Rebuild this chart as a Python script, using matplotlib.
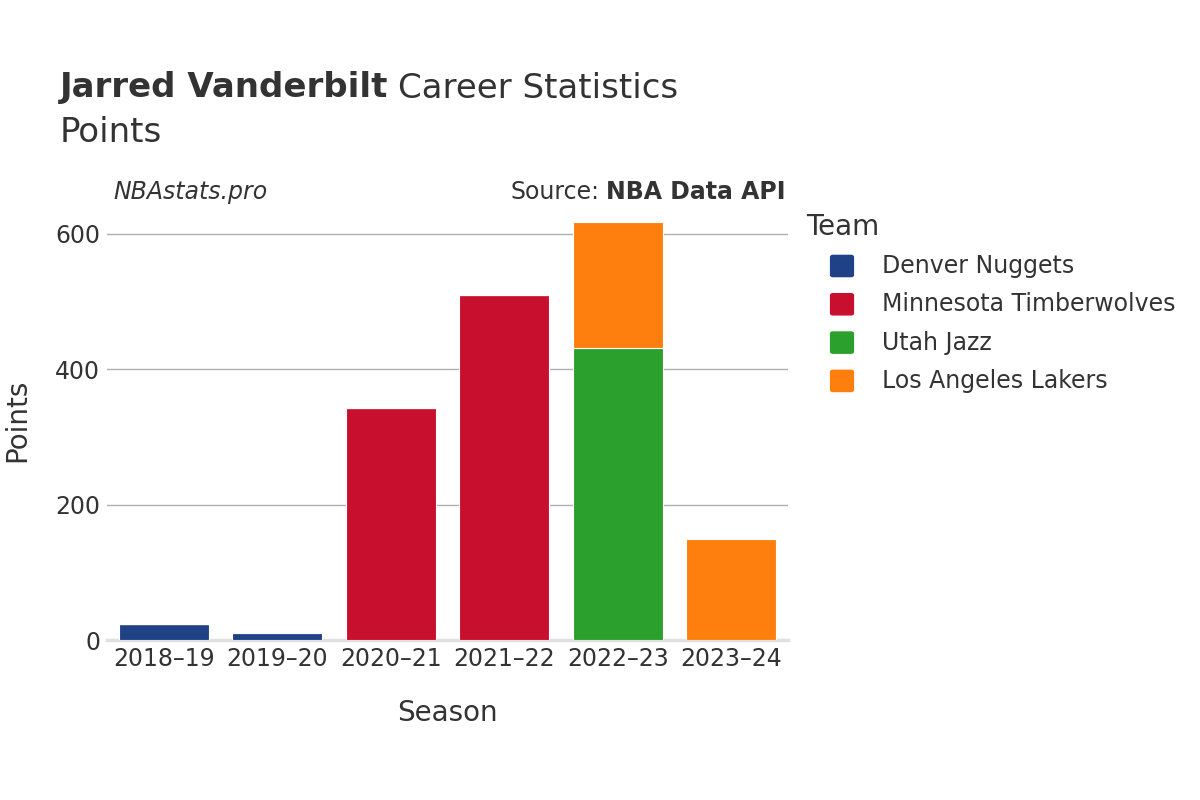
import matplotlib.pyplot as plt
from matplotlib.patches import FancyBboxPatch
import numpy as np

# data
seasons = ["2018\u201319", "2019\u201320", "2020\u201321", "2021\u201322", "2022\u201323", "2023\u201324"]
teams = ["Denver Nuggets", "Minnesota Timberwolves", "Utah Jazz", "Los Angeles Lakers"]
colors = ["#1f4287", "#c8102e", "#2ca02c", "#ff7f0e"]
points = {
    "Denver Nuggets": [24, 10, 0, 0, 0, 0],
    "Minnesota Timberwolves": [0, 2, 343, 510, 0, 0],
    "Utah Jazz": [0, 0, 0, 0, 431, 0],
    "Los Angeles Lakers": [0, 0, 0, 0, 187, 149],
}

W, H = 1200, 800
fig = plt.figure(figsize=(12, 8), dpi=100)
ax = fig.add_axes([107 / W, 1 - 640 / H, (788 - 107) / W, (640 - 200) / H])

x = np.arange(len(seasons))
bottom = np.zeros(len(seasons))
for team, c in zip(teams, colors):
    vals = np.array(points[team], dtype=float)
    ax.bar(x, vals, 0.79, bottom=bottom, color=c, edgecolor="white", linewidth=0.8, zorder=3)
    bottom += vals

ax.set_xlim(-0.5, len(seasons) - 0.5)
ax.set_ylim(0, 650)
ax.set_yticks([0, 200, 400, 600])
ax.set_xticks(x)
ax.set_xticklabels(seasons)
ax.tick_params(axis="both", length=0, labelsize=17, colors="#333333", pad=5)
ax.grid(axis="y", color="#b0b0b0", linewidth=1, zorder=0)
for s in ["top", "right", "left"]:
    ax.spines[s].set_visible(False)
ax.spines["bottom"].set_color("#e0e0e0")
ax.spines["bottom"].set_linewidth(2.5)
ax.set_xlabel("Season", fontsize=20, color="#333333", labelpad=20)
fig.text(17 / W, 1 - 420 / H, "Points", fontsize=20, color="#333333", va="center", ha="center", rotation=90)

# title texts
fig.canvas.draw()
r = fig.canvas.get_renderer()
t1 = fig.text(60 / W, 1 - 88 / H, "Jarred Vanderbilt", fontsize=24.5, fontweight="bold", color="#333333", va="center")
bb = t1.get_window_extent(renderer=r)
fig.text(bb.x1 / W + 10 / W, 1 - 88 / H, "Career Statistics", fontsize=24.5, color="#333333", va="center")
fig.text(60 / W, 1 - 132 / H, "Points", fontsize=24.5, color="#333333", va="center")
fig.text(113 / W, 1 - 192 / H, "NBAstats.pro", fontsize=17, style="italic", color="#333333", va="center")
t2 = fig.text(785 / W, 1 - 192 / H, "NBA Data API", fontsize=17, fontweight="bold", color="#333333", va="center", ha="right")
bb2 = t2.get_window_extent(renderer=r)
fig.text(bb2.x0 / W - 6 / W, 1 - 192 / H, "Source:", fontsize=17, color="#333333", va="center", ha="right")

# legend
fig.text(806 / W, 1 - 227 / H, "Team", fontsize=20, color="#333333", va="center")
for i, (team, c) in enumerate(zip(teams, colors)):
    yy = 266 + i * 38.3
    fig.patches.append(FancyBboxPatch((833 / W, 1 - (yy + 9) / H), 18 / W, 18 / H,
                                      boxstyle="round,pad=0.002", transform=fig.transFigure,
                                      color=c, figure=fig))
    fig.text(882 / W, 1 - yy / H, team, fontsize=17, color="#333333", va="center")

plt.savefig("out.png")
